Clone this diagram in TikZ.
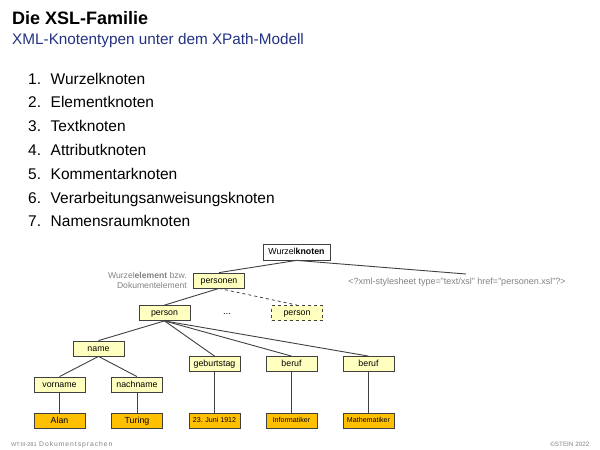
\documentclass[tikz,border=0pt]{standalone}
\usepackage{fontspec}
\setmainfont{Liberation Sans}
\definecolor{elemfill}{RGB}{255,255,192}
\definecolor{txtfill}{RGB}{255,192,0}
\definecolor{textgrey}{RGB}{130,130,130}
\definecolor{subblue}{RGB}{35,50,130}
\begin{document}
\begin{tikzpicture}[x=1pt,y=-1pt,
  box/.style={draw=black!75, line width=0.8pt, minimum width=51pt, minimum height=15pt, inner sep=1pt, text height=7.2pt, text depth=1.8pt, font=\fontsize{8.8}{10}\selectfont},
  elem/.style={box, fill=elemfill},
  txt/.style={box, fill=txtfill},
  small/.style={font=\fontsize{7.1}{8}\selectfont, text height=5.8pt, text depth=1.4pt},
  edge/.style={draw=black!75, line width=0.9pt},
  listnum/.style={anchor=base west, font=\fontsize{15.5}{18}\selectfont},
  greytxt/.style={text=textgrey, font=\fontsize{8.6}{10}\selectfont},
  foot/.style={text=textgrey, anchor=base west}]
\useasboundingbox (0,0) rectangle (600,450);
% title
\node[anchor=base west, inner sep=0, font=\fontsize{18}{21}\selectfont\bfseries] (title) at (12,24) {Die XSL-Familie};
\node[anchor=base west, inner sep=0, text=subblue, font=\fontsize{15.3}{18}\selectfont] (sub) at (12,44.3) {XML-Knotentypen unter dem XPath-Modell};
% list
\foreach \i/\t [count=\k from 0] in {1/Wurzelknoten,2/Elementknoten,3/Textknoten,4/Attributknoten,5/Kommentarknoten,6/Verarbeitungsanweisungsknoten,7/Namensraumknoten}{
  \node[listnum, inner sep=0] (n\i) at (28,84+23.8*\k) {\i.};
  \node[listnum, inner sep=0] (l\i) at (50.5,84+23.8*\k) {\t};
}
% tree
\node[box, fill=white, minimum width=67pt, minimum height=16pt] (wk) at (296.5,252) {Wurzel\textbf{knoten}};
\node[elem] (pers) at (219,280.5) {personen};
\node[greytxt, align=right, anchor=east, inner sep=0] (wel) at (187,280) {Wurzel\textbf{element} bzw.\\Dokumentelement};
\node[greytxt, inner sep=0, font=\fontsize{9}{10}\selectfont] (pi) at (457,282) {<?xml-stylesheet type="text/xsl" href="personen.xsl"?>};
\coordinate (piend) at (466,274);
\node[elem] (p1) at (164.5,313) {person};
\node[elem, dashed] (p2) at (297,313) {person};
\node[font=\fontsize{9.5}{10}\selectfont, inner sep=0] (dots) at (227,314) {...};
\node[elem] (name) at (98.5,348.5) {name};
\node[elem] (geb) at (214.5,364) {geburtstag};
\node[elem] (b1) at (291.5,364) {beruf};
\node[elem] (b2) at (368.5,364) {beruf};
\node[elem] (vn) at (59.5,384.5) {vorname};
\node[elem] (nn) at (137,384.5) {nachname};
\node[txt] (alan) at (59.5,420.5) {Alan};
\node[txt] (tur) at (137,420.5) {Turing};
\node[txt, small] (datum) at (214.5,420.5) {23. Juni 1912};
\node[txt, small] (inf) at (291.5,420.5) {Informatiker};
\node[txt, small] (mat) at (368.5,420.5) {Mathematiker};
% edges
\draw[edge] (wk.south) -- (pers.north);
\draw[edge] (wk.south) -- (piend);
\draw[edge] (pers.south) -- (p1.north);
\draw[edge, dashed, line width=0.8pt] (pers.south) -- (p2.north);
\draw[edge] (p1.south) -- (name.north);
\draw[edge] (p1.south) -- (geb.north);
\draw[edge] (p1.south) -- (b1.north);
\draw[edge] (p1.south) -- (b2.north);
\draw[edge] (name.south) -- (vn.north);
\draw[edge] (name.south) -- (nn.north);
\draw[edge] (vn) -- (alan);
\draw[edge] (nn) -- (tur);
\draw[edge] (geb) -- (datum);
\draw[edge] (b1) -- (inf);
\draw[edge] (b2) -- (mat);
% footer
\node[foot, inner sep=0, font=\fontsize{5.6}{7}\selectfont] (f1) at (11,446) {WT:III-281};
\node[foot, inner sep=0, font=\fontsize{6.8}{8}\selectfont\addfontfeatures{LetterSpace=14}] (f2) at (39,446) {Dokumentsprachen};
\node[foot, inner sep=0, anchor=base east, font=\fontsize{6.3}{7}\selectfont] (f3) at (589.5,446) {©STEIN 2022};
\end{tikzpicture}
\end{document}
